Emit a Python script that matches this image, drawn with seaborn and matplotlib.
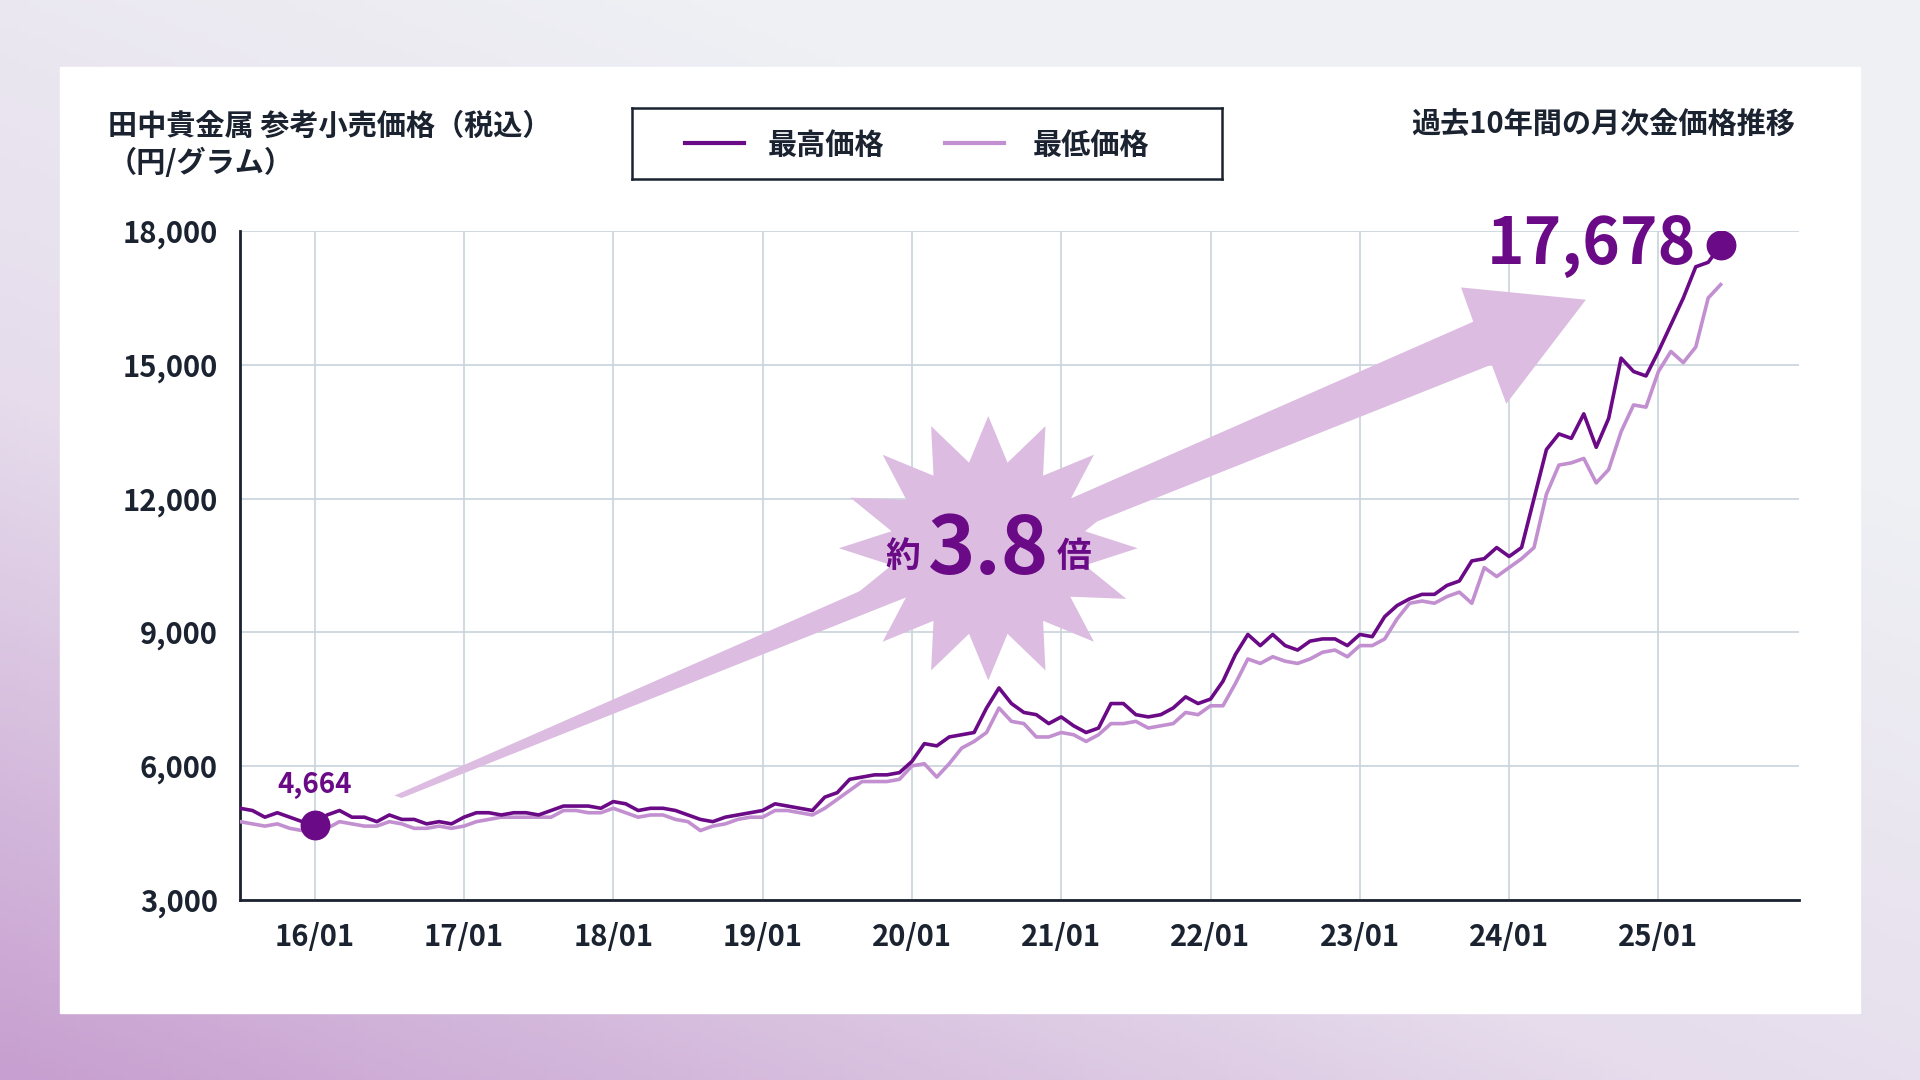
import numpy as np
import pandas as pd
import seaborn as sns
import matplotlib
matplotlib.use("Agg")
import matplotlib.pyplot as plt
from matplotlib.patches import Polygon, Rectangle
from matplotlib.colors import LinearSegmentedColormap, to_hex

FONT = "Noto Sans CJK JP"
plt.rcParams["font.family"] = FONT

# ---- data (monthly, 2015/07 .. 2025/06) ----
max_price = [
    5050, 5000, 4850, 4950, 4850, 4750,
    4664, 4900, 5000, 4850, 4850, 4750, 4900, 4800, 4800, 4700, 4750, 4700,
    4850, 4950, 4950, 4900, 4950, 4950, 4900, 5000, 5100, 5100, 5100, 5050,
    5200, 5150, 5000, 5050, 5050, 5000, 4900, 4800, 4750, 4850, 4900, 4950,
    5000, 5150, 5100, 5050, 5000, 5300, 5400, 5700, 5750, 5800, 5800, 5850,
    6100, 6500, 6450, 6650, 6700, 6750, 7300, 7750, 7400, 7200, 7150, 6950,
    7100, 6900, 6750, 6850, 7400, 7400, 7150, 7100, 7150, 7300, 7550, 7400,
    7500, 7900, 8500, 8950, 8700, 8950, 8700, 8600, 8800, 8850, 8850, 8700,
    8950, 8900, 9350, 9600, 9750, 9850, 9850, 10050, 10150, 10600, 10650, 10900,
    10700, 10900, 12000, 13100, 13450, 13350, 13900, 13150, 13800, 15150, 14850, 14750,
    15300, 15900, 16500, 17200, 17300, 17678,
]
min_price = [
    4750, 4700, 4650, 4700, 4600, 4550,
    4500, 4600, 4750, 4700, 4650, 4650, 4750, 4700, 4600, 4600, 4650, 4600,
    4650, 4750, 4800, 4850, 4850, 4850, 4850, 4850, 5000, 5000, 4950, 4950,
    5050, 4950, 4850, 4900, 4900, 4800, 4750, 4550, 4650, 4700, 4800, 4850,
    4850, 5000, 5000, 4950, 4900, 5050, 5250, 5450, 5650, 5650, 5650, 5700,
    6000, 6050, 5750, 6050, 6400, 6550, 6750, 7300, 7000, 6950, 6650, 6650,
    6750, 6700, 6550, 6700, 6950, 6950, 7000, 6850, 6900, 6950, 7200, 7150,
    7350, 7350, 7850, 8400, 8300, 8450, 8350, 8300, 8400, 8550, 8600, 8450,
    8700, 8700, 8850, 9300, 9650, 9700, 9650, 9800, 9900, 9650, 10450, 10250,
    10450, 10650, 10900, 12100, 12750, 12800, 12900, 12350, 12650, 13500, 14100, 14050,
    14850, 15300, 15050, 15400, 16500, 16800,
]
tick_labels = ["16/01", "17/01", "18/01", "19/01", "20/01", "21/01", "22/01", "23/01", "24/01", "25/01"]
tick_pos = [6 + 12 * i for i in range(len(tick_labels))]
y_ticks = [3000, 6000, 9000, 12000, 15000, 18000]
series_names = ["最高価格", "最低価格"]

n = len(max_price)
df = pd.DataFrame({
    "idx": list(range(n)) * 2,
    "price": max_price + min_price,
    "series": [series_names[0]] * n + [series_names[1]] * n,
})

DARK = "#6b0a86"
LIGHT = "#c28fd0"
PALE = "#dcbde1"
TEXT = "#1b2230"

fig = plt.figure(figsize=(19.2, 10.8), dpi=100)

# background gradient
bg = fig.add_axes([0, 0, 1, 1])
bg.set_axis_off()
yy, xx = np.mgrid[0:1:200j, 0:1:200j]
t = np.clip((1 - xx) * 0.55 + (1 - yy) * 0.75 - 0.35, 0, 1)
cmap = LinearSegmentedColormap.from_list("bg", ["#eef0f4", "#e6dcec", "#c79fd0"])
bg.imshow(t, cmap=cmap, origin="lower", extent=[0, 1, 0, 1], aspect="auto")
bg.add_patch(Rectangle((0.031, 0.062), 0.938, 0.876, color="white", transform=bg.transAxes))
bg.set_xlim(0, 1); bg.set_ylim(0, 1)

ax = fig.add_axes([0.125, 0.167, 0.812, 0.619])
ax.set_facecolor("none")

def fr(px, py):
    return ((px - 196) / 1273, (735 - py) / 546)

arrow = [fr(*p) for p in [(322, 650), (1203, 263), (1193, 235), (1295, 245),
                           (1230, 330), (1218, 298), (328, 652)]]
ax.add_patch(Polygon(arrow, closed=True, color=PALE, transform=ax.transAxes, zorder=1, lw=0))
cx, cy = 807, 448
pts = []
k = 16
for i in range(2 * k):
    a = np.pi * i / k
    r = 1.0 if i % 2 == 0 else 0.66
    pts.append(fr(cx + 122 * r * np.cos(a), cy - 108 * r * np.sin(a)))
ax.add_patch(Polygon(pts, closed=True, color=PALE, transform=ax.transAxes, zorder=1, lw=0))

sns.lineplot(data=df, x="idx", y="price", hue="series",
             palette={series_names[0]: DARK, series_names[1]: LIGHT},
             hue_order=series_names, ax=ax, linewidth=2.6, legend=False)
for line in ax.lines:
    line.set_zorder(4 if to_hex(line.get_color()) == DARK else 3)

ax.set_xlim(0, 125.3)
ax.set_ylim(3000, 18000)
ax.set_xticks(tick_pos)
ax.set_xticklabels(tick_labels)
ax.set_yticks(y_ticks)
ax.set_yticklabels([f"{v:,}" for v in y_ticks])
ax.grid(True, color="#c9d3dc", linewidth=1.2)
ax.set_axisbelow(True)
for s in ["top", "right"]:
    ax.spines[s].set_visible(False)
for s in ["left", "bottom"]:
    ax.spines[s].set_color(TEXT)
    ax.spines[s].set_linewidth(2)
ax.tick_params(length=0, labelsize=21, colors=TEXT, pad=16)
for lab in ax.get_xticklabels() + ax.get_yticklabels():
    lab.set_fontweight("bold")
ax.set_xlabel(""); ax.set_ylabel("")

i_min = 6
ax.scatter([i_min], [max_price[i_min]], s=420, color=DARK, zorder=5)
ax.text(i_min, max_price[i_min] + 600, f"{max_price[i_min]:,}", color=DARK, fontsize=20,
        fontweight="bold", ha="center", va="bottom")
ax.scatter([n - 1], [max_price[-1]], s=420, color=DARK, zorder=5)
ax.text(n - 3, max_price[-1], f"{max_price[-1]:,}", color=DARK, fontsize=46,
        fontweight="bold", ha="right", va="center")

tx, ty = fr(cx, cy + 2)
ax.text(tx - 0.055, ty - 0.008, "約", transform=ax.transAxes, color=DARK, fontsize=25,
        fontweight="bold", ha="center", va="center", zorder=6)
ax.text(tx, ty, "3.8", transform=ax.transAxes, color=DARK, fontsize=58,
        fontweight="bold", ha="center", va="center", zorder=6)
ax.text(tx + 0.055, ty - 0.008, "倍", transform=ax.transAxes, color=DARK, fontsize=25,
        fontweight="bold", ha="center", va="center", zorder=6)

fig.text(88 / 1568, 1 - 118 / 882, "田中貴金属 参考小売価格（税込）\n（円/グラム）", fontsize=21,
         fontweight="bold", color=TEXT, ha="left", va="center", linespacing=1.25)
fig.text(1466 / 1568, 1 - 102 / 882, "過去10年間の月次金価格推移", fontsize=21,
         fontweight="bold", color=TEXT, ha="right", va="center")

lg = fig.add_axes([516 / 1568, 1 - 146 / 882, 482 / 1568, 58 / 882])
lg.set_xlim(0, 1); lg.set_ylim(0, 1)
lg.set_xticks([]); lg.set_yticks([])
for s in lg.spines.values():
    s.set_color(TEXT); s.set_linewidth(1.8)
lg.plot([0.09, 0.19], [0.5, 0.5], color=DARK, lw=3)
lg.text(0.23, 0.48, series_names[0], fontsize=21, fontweight="bold", color=TEXT, va="center")
lg.plot([0.53, 0.63], [0.5, 0.5], color=LIGHT, lw=3)
lg.text(0.68, 0.48, series_names[1], fontsize=21, fontweight="bold", color=TEXT, va="center")

fig.savefig("out.png", dpi=100)
